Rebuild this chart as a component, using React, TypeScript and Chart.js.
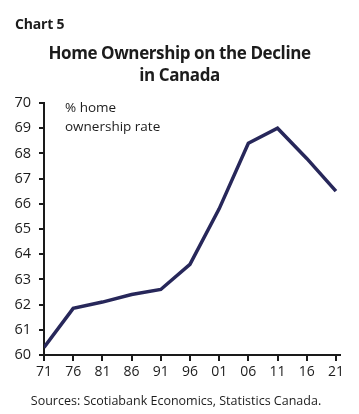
import React, { useEffect, useRef } from "react";
import { Chart, registerables } from "chart.js";

Chart.register(...registerables);

const years = [1971, 1976, 1981, 1986, 1991, 1996, 2001, 2006, 2011, 2016, 2021];
const ownershipRate = [60.3, 61.85, 62.1, 62.4, 62.6, 63.6, 65.8, 68.4, 69.0, 67.8, 66.5];
const yTicks = [60, 61, 62, 63, 64, 65, 66, 67, 68, 69, 70];

const FONT = "'Open Sans', 'Noto Sans', sans-serif";
const TEXT = "#1c1c1c";
const LINE = "#27275a";

export default function App() {
  const ref = useRef<HTMLCanvasElement | null>(null);

  useEffect(() => {
    if (!ref.current) return;
    const chart = new Chart(ref.current, {
      type: "line",
      data: {
        datasets: [
          {
            data: years.map((y, i) => ({ x: y, y: ownershipRate[i] })),
            borderColor: LINE,
            borderWidth: 3.5,
            pointRadius: 0,
            tension: 0,
            fill: false,
          },
        ],
      },
      options: {
        animation: false,
        responsive: false,
        devicePixelRatio: 1,
        layout: { padding: { left: 0, right: 19, top: 103, bottom: 0 } },
        plugins: { legend: { display: false }, tooltip: { enabled: false } },
        scales: {
          x: {
            type: "linear",
            min: 1971,
            max: 2021.7,
            afterBuildTicks: (s: any) => {
              s.ticks = years.map((v) => ({ value: v }));
            },
            afterFit: (s: any) => {
              s.height = 59;
            },
            border: { display: true, color: "#1a1a1a", width: 2 },
            grid: { drawOnChartArea: false, drawTicks: true, tickLength: 6, color: "#1a1a1a", lineWidth: 2 },
            ticks: {
              autoSkip: false,
              maxRotation: 0,
              padding: 3,
              color: TEXT,
              font: { family: FONT, size: 14 },
              callback: (v: any) => String(Number(v) % 100).padStart(2, "0"),
            },
          },
          y: {
            min: 60,
            max: 70,
            afterBuildTicks: (s: any) => {
              s.ticks = yTicks.map((v) => ({ value: v }));
            },
            afterFit: (s: any) => {
              s.width = 44;
            },
            border: { display: true, color: "#1a1a1a", width: 2 },
            grid: { drawOnChartArea: false, drawTicks: true, tickLength: 5, color: "#1a1a1a", lineWidth: 2 },
            ticks: {
              padding: 8,
              color: TEXT,
              font: { family: FONT, size: 14.5 },
            },
          },
        },
      },
    });
    return () => chart.destroy();
  }, []);

  return (
    <div
      style={{
        position: "fixed",
        left: 0,
        top: 0,
        width: 359,
        height: 414,
        background: "#fff",
        fontFamily: FONT,
        color: TEXT,
        overflow: "hidden",
      }}
    >
      <canvas ref={ref} width={359} height={414} style={{ position: "absolute", left: 0, top: 0 }} />
      <div style={{ position: "absolute", left: 15, top: 14, fontSize: 14, fontWeight: 700, lineHeight: "20px", letterSpacing: -0.2 }}>
        Chart 5
      </div>
      <div
        style={{
          position: "absolute",
          left: 0,
          width: 359,
          top: 42,
          textAlign: "center",
          fontSize: 17,
          fontWeight: 700,
          lineHeight: "22px",
          letterSpacing: -0.4,
        }}
      >
        Home Ownership on the Decline
        <br />
        in Canada
      </div>
      <div style={{ position: "absolute", left: 65, top: 98, fontSize: 13.5, lineHeight: "19px" }}>
        % home
        <br />
        ownership rate
      </div>
      <div
        style={{
          position: "absolute",
          left: 0,
          width: 352,
          top: 391,
          textAlign: "center",
          fontSize: 12.5,
          lineHeight: "20px",
        }}
      >
        Sources: Scotiabank Economics, Statistics Canada.
      </div>
    </div>
  );
}
